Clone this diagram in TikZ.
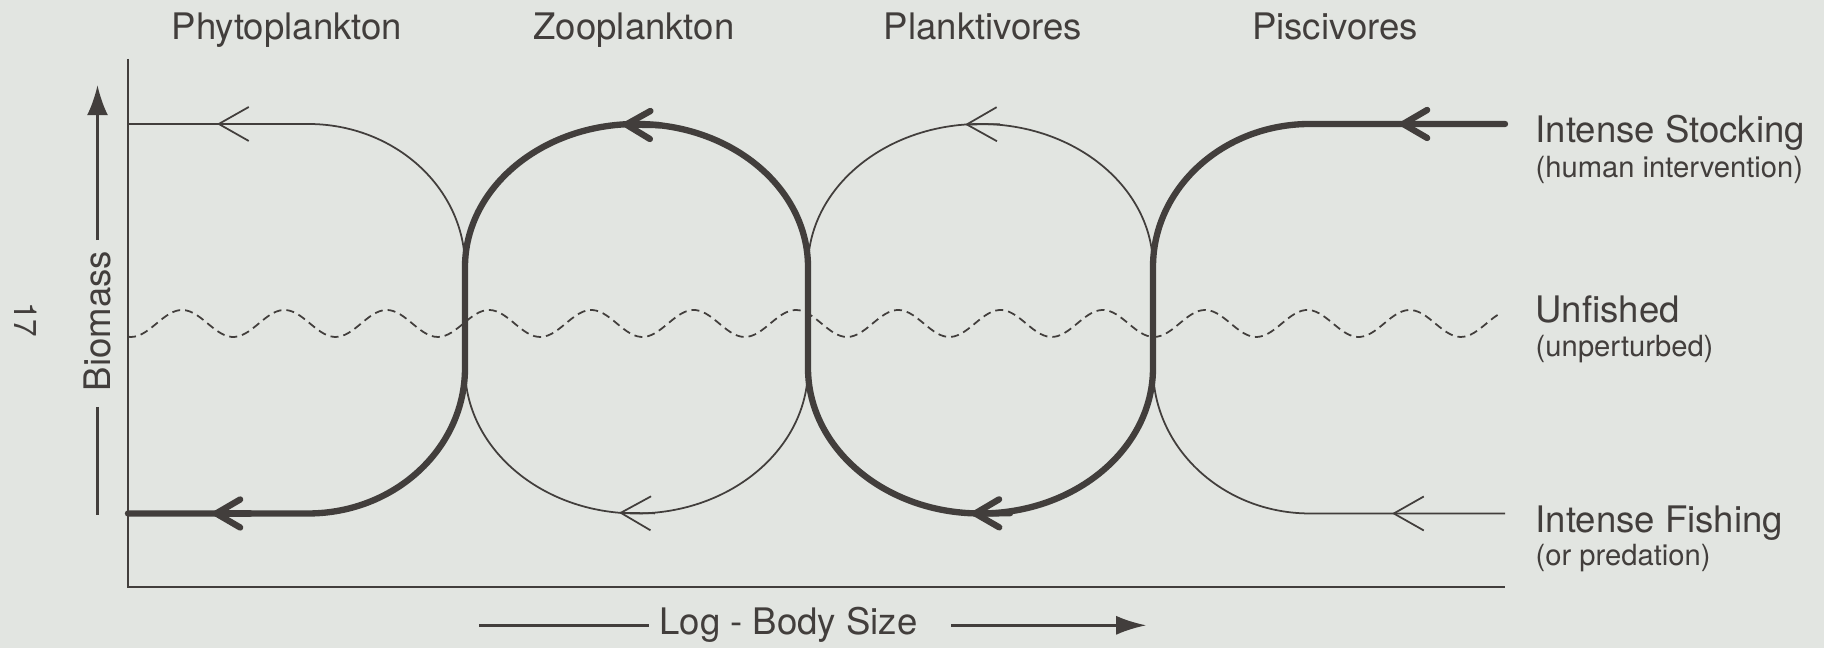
\documentclass[tikz,border=0pt]{standalone}
\usepackage{fontspec}
\setmainfont{TeX Gyre Heros}
\usetikzlibrary{arrows.meta}
\definecolor{paper}{RGB}{226,229,225}
\definecolor{ink}{RGB}{66,62,60}

\begin{document}
\begin{tikzpicture}[
    >=Latex,
    every node/.style={font=\fontsize{10.4}{12}\selectfont, text=ink, inner sep=0pt},
    sub/.style={font=\fontsize{8.3}{10}\selectfont},
    heavy/.style={draw=ink, line width=1.8pt, line cap=round, line join=round},
    light/.style={draw=ink, line width=0.5pt},
    frame/.style={draw=ink, line width=0.8pt},
    guide/.style={draw=ink, line width=0.7pt},
    hbarb/.style={heavy, -{Straight Barb[length=2.4mm, width=2.8mm, round]}},
    lbarb/.style={light, -{Straight Barb[length=3mm, width=3.4mm]}},
    wave/.style={draw=ink, line width=0.5pt, dash pattern=on 0.8mm off 0.5mm}
]
    \useasboundingbox (0,0) rectangle (18.24,6.48);
    \fill[paper] (0,0) rectangle (18.24,6.48);

    % axes
    \draw[frame] (1.28,5.89) -- (1.28,0.61) -- (15.05,0.61);

    % unfished level
    \draw[wave] plot[domain=1.28:15.02, samples=400, smooth]
        (\x, {3.245 + 0.135*cos(360*(\x-1.821)/1.023)});

    % thin branches
    \draw[light] (1.28,5.24) -- (3.08,5.24)
        arc[start angle=90, end angle=0, x radius=1.57, y radius=1.43];
    \draw[light] (4.65,2.80) arc[start angle=180, end angle=360, x radius=1.715, y radius=1.455];
    \draw[light] (8.08,3.81) arc[start angle=180, end angle=0, x radius=1.725, y radius=1.43];
    \draw[light] (11.53,2.80) arc[start angle=180, end angle=270, x radius=1.57, y radius=1.455]
        -- (15.05,1.345);

    % heavy branch
    \draw[heavy] (15.05,5.24) -- (13.10,5.24)
        arc[start angle=90, end angle=180, x radius=1.57, y radius=1.43] -- (11.53,2.80)
        arc[start angle=0, end angle=-180, x radius=1.725, y radius=1.455] -- (8.08,3.81)
        arc[start angle=0, end angle=180, x radius=1.715, y radius=1.43] -- (4.65,2.80)
        arc[start angle=0, end angle=-90, x radius=1.57, y radius=1.455] -- (1.28,1.345);

    % arrow heads
    \draw[hbarb] (14.40,5.24) -- (14.00,5.24);
    \draw[hbarb] (6.60,5.228) -- (6.23,5.235);
    \draw[hbarb] (10.10,1.347) -- (9.72,1.345);
    \draw[hbarb] (2.50,1.345) -- (2.13,1.345);
    \draw[lbarb] (2.55,5.24) -- (2.17,5.24);
    \draw[lbarb] (6.55,1.346) -- (6.19,1.352);
    \draw[lbarb] (10.00,5.238) -- (9.65,5.235);
    \draw[lbarb] (14.30,1.345) -- (13.92,1.345);

    % trophic groups
    \node[anchor=base] (phyto) at (2.87,6.08) {Phytoplankton};
    \node[anchor=base] (zoo) at (6.34,6.08) {Zooplankton};
    \node[anchor=base] (plankt) at (9.83,6.08) {Planktivores};
    \node[anchor=base] (pisc) at (13.35,6.08) {Piscivores};

    % states
    \node[anchor=base west] (stock) at (15.35,5.05) {Intense Stocking};
    \node[anchor=base west, sub] (stocksub) at (15.35,4.70) {(human intervention)};
    \node[anchor=base west] (unf) at (15.35,3.25) {Unfished};
    \node[anchor=base west, sub] (unfsub) at (15.35,2.91) {(unperturbed)};
    \node[anchor=base west] (fish) at (15.35,1.15) {Intense Fishing};
    \node[anchor=base west, sub] (fishsub) at (15.35,0.82) {(or predation)};

    % axis labels
    \node[rotate=90] (bio) at (0.975,3.27) {Biomass};
    \draw[guide, -{Latex[length=3mm, width=2.1mm]}] ([yshift=1mm]bio.east) -- ++(0,1.55);
    \draw[guide] ([yshift=-1.5mm]bio.west) -- ++(0,-1.08);
    \node[anchor=base] (size) at (7.885,0.13) {Log - Body Size};
    \draw[guide] ([xshift=-1mm]size.west) -- ++(-1.70,0);
    \draw[guide, -{Latex[length=3mm, width=1.9mm]}] ([xshift=3.3mm]size.east) -- ++(1.95,0);

    \node[rotate=-90, font=\fontsize{9}{10}\selectfont] (page) at (0.26,3.28) {17};
\end{tikzpicture}
\end{document}
